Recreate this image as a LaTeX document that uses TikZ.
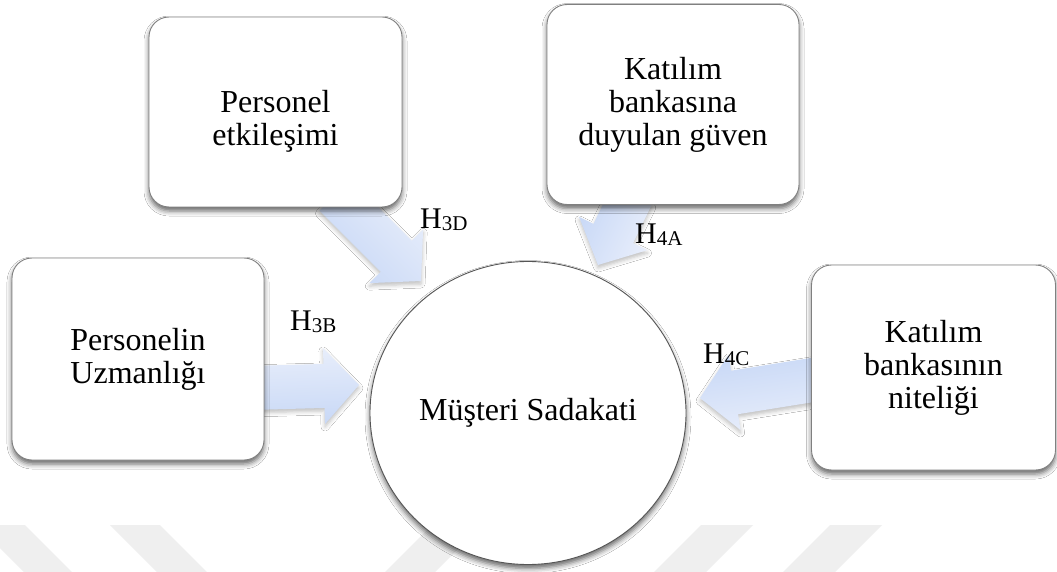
\documentclass[tikz,border=0pt]{standalone}
\usepackage{fontspec}
\setmainfont{Liberation Serif}
\usetikzlibrary{calc,shapes.geometric,shadows.blur}

\definecolor{boxline}{RGB}{128,128,128}
\definecolor{ringline}{RGB}{85,85,85}
\definecolor{arrowtail}{RGB}{232,238,251}
\definecolor{arrowhead}{RGB}{200,216,246}
\definecolor{stripe}{RGB}{239,239,239}

\newcommand\bodyfont{\fontsize{32}{33}\selectfont}
\newcommand\hlab[1]{H\raisebox{-2pt}{\fontsize{21}{21}\selectfont #1}}

% block arrow from tail #1 to tip #2, shading angle #3
\newcommand\blockarrow[3]{%
  \coordinate (#1-base) at ($(#2)!35pt!(#1)$);
  \path[blockarrow=#3]
    ($(#1)!22pt!90:(#2)$) -- ($(#1-base)!22pt!-90:(#1)$)
    -- ($(#1-base)!38pt!-90:(#1)$) -- (#2)
    -- ($(#1-base)!38pt!90:(#1)$) -- ($(#1-base)!22pt!90:(#1)$)
    -- ($(#1)!22pt!-90:(#2)$) -- cycle;
}

\tikzset{
  card/.style={draw=boxline, line width=0.9pt, fill=white, rounded corners=20pt,
    align=center, font=\bodyfont, inner sep=0pt,
    blur shadow={shadow xshift=0pt, shadow yshift=-4pt, shadow blur radius=5pt, shadow opacity=60}},
  cardtext/.style={align=center, font=\bodyfont, inner sep=0pt},
  ring/.style={ellipse, draw=ringline, line width=0.9pt, fill=white, font=\bodyfont,
    minimum width=316pt, minimum height=303pt, inner sep=0pt,
    blur shadow={shadow xshift=0pt, shadow yshift=-4pt, shadow blur radius=5pt, shadow opacity=60}},
  blockarrow/.style={left color=arrowtail, right color=arrowhead, shading angle=#1,
    blur shadow={shadow xshift=0pt, shadow yshift=-3pt, shadow blur radius=4pt, shadow opacity=25}},
  hyp/.style={anchor=base west, font=\fontsize{30}{30}\selectfont, inner sep=0pt},
  band/.style={fill=stripe}
}

\begin{document}
\begin{tikzpicture}[x=1pt, y=-1pt]
  \useasboundingbox (0,0) rectangle (1057,572);
  \fill[white] (0,0) rectangle (1057,572);

  % faint diagonal bands along the bottom
  \fill[band] (0,525) -- (25,525) -- (72,572) -- (24,572) -- (0,548) -- cycle;
  \fill[band] (110,525) -- (160,525) -- (207,572) -- (157,572) -- cycle;
  \fill[band] (432,525) -- (482,525) -- (435,572) -- (385,572) -- cycle;
  \fill[band] (701,525) -- (753,525) -- (706,572) -- (654,572) -- cycle;
  \fill[band] (830,525) -- (882,525) -- (835,572) -- (783,572) -- cycle;

  % arrow end points
  \coordinate (t3d) at (335,195);  \coordinate (p3d) at (421,281);
  \coordinate (t4a) at (632,195);  \coordinate (p4a) at (598,265);
  \coordinate (t3b) at (250,388);  \coordinate (p3b) at (359,385);
  \coordinate (t4c) at (825,378);  \coordinate (p4c) at (700,398);

  \blockarrow{t3d}{p3d}{-45}
  \blockarrow{t4a}{p4a}{-115}
  \blockarrow{t3b}{p3b}{2}
  \blockarrow{t4c}{p4c}{-172}

  % factor boxes
  \node[card, minimum width=253pt, minimum height=190pt] (etk) at (275.5,112) {};
  \node[cardtext] (etk-text) at ($(etk.center)+(0,9)$) {Personel\\etkileşimi};
  \node[card, minimum width=252pt, minimum height=200pt] (guv) at (673,104.5)
    {Katılım\\bankasına\\duyulan güven};
  \node[card, minimum width=252pt, minimum height=202pt] (uzm) at (138,359)
    {Personelin\\Uzmanlığı};
  \node[card, minimum width=244pt, minimum height=205pt] (nit) at (933.5,367.5)
    {Katılım\\bankasının\\niteliği};

  % outcome
  \node[ring] (sad) at (528,413) {Müşteri Sadakati};

  % hypothesis labels
  \node[hyp] (h3d) at (420,228) {\hlab{3D}};
  \node[hyp] (h4a) at (635,243) {\hlab{4A}};
  \node[hyp] (h3b) at (290,330) {\hlab{3B}};
  \node[hyp] (h4c) at (703,363) {\hlab{4C}};
\end{tikzpicture}
\end{document}
